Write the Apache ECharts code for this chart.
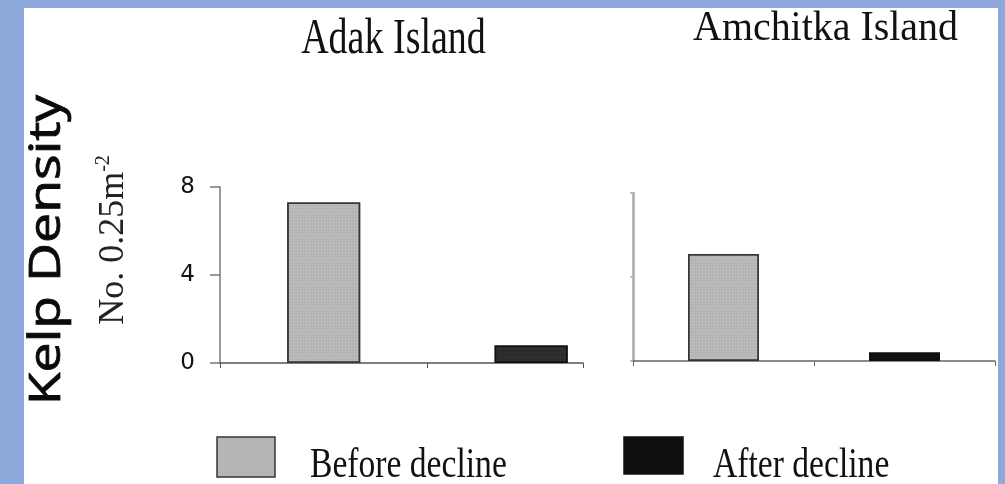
<!DOCTYPE html>
<html><head><meta charset="utf-8">
<script src="https://cdn.jsdelivr.net/npm/echarts@6/dist/echarts.min.js"></script>
<style>
html,body{margin:0;padding:0;background:#8eaadc;width:1005px;height:484px;overflow:hidden}
#bg{position:absolute;left:24px;top:8px;width:974px;height:476px;background:#fff}
#chart{position:absolute;left:0;top:0;width:1005px;height:484px}
</style></head><body><div id="bg"></div><div id="chart"></div>
<script>
const islands = ['Adak Island', 'Amchitka Island'];
const periods = ['Before decline', 'After decline'];
const adakDensity = [7.3, 0.8];
const amchitkaDensity = [5.1, 0.4];
const yTickValues = [0, 4, 8];
const yAxisTitle = 'Kelp Density';
const yAxisUnit = 'No. 0.25m';
const yAxisUnitExp = '-2';

const fillLeft = ['#b5b5b5', '#2c2c2c'];
const fillRight = ['#b5b5b5', '#0f0f0f'];
const borders = ['#353535', '#111111'];
const decals = [
  {symbol: 'rect', symbolSize: 1, dashArrayX: [1, 2], dashArrayY: [1, 2], color: 'rgba(255,255,255,0.28)'},
  {symbol: 'rect', symbolSize: 1, dashArrayX: [1, 3], dashArrayY: [1, 3], color: 'rgba(255,255,255,0.08)'}
];

function makeSeries(gridIdx, values, barW, fills) {
  return periods.map((p, i) => ({
    name: p, type: 'bar', xAxisIndex: gridIdx, yAxisIndex: gridIdx,
    barWidth: barW, barGap: '-100%', silent: true,
    data: [[i + 0.5, values[i]]],
    itemStyle: {color: fills[i], borderColor: borders[i], borderWidth: 1.5, decal: decals[i]}
  }));
}

const chart = echarts.init(document.getElementById('chart'), null, {renderer: 'canvas'});
const serif = '"Liberation Serif", "Times New Roman", serif';
const ySpec = (gridIndex, showLabels, lineColor, tickLen, lineW) => ({
  gridIndex: gridIndex,
  type: 'value', min: yTickValues[0], max: yTickValues[yTickValues.length - 1], interval: yTickValues[1] - yTickValues[0],
  axisLine: {show: true, lineStyle: {color: lineColor, width: lineW}},
  axisTick: {show: true, length: tickLen, lineStyle: {color: lineColor, width: 1.5}},
  axisLabel: {show: showLabels, margin: 25, fontFamily: '"DejaVu Sans", sans-serif', fontSize: 23, color: '#111'},
  splitLine: {show: false}
});
const xSpec = (gridIndex, max, lineColor) => ({
  gridIndex: gridIndex,
  type: 'value', min: 0, max: max, interval: 1,
  axisLine: {show: true, onZero: false, lineStyle: {color: lineColor, width: 1.5}},
  axisTick: {show: true, length: 5, lineStyle: {color: lineColor}},
  axisLabel: {show: false}, splitLine: {show: false}
});

const legendItems = [];
const legendBoxes = [[217, 437, 58, 40], [624, 437, 59, 37]];
const legendTextX = [310, 713];
periods.forEach((p, i) => {
  legendItems.push({type: 'rect', shape: {x: legendBoxes[i][0], y: legendBoxes[i][1], width: legendBoxes[i][2], height: legendBoxes[i][3]},
    style: {fill: fillRight[i], stroke: borders[i], lineWidth: 1.5}});
  legendItems.push({type: 'text', x: legendTextX[i], y: 466, scaleX: 0.8,
    style: {text: p, font: '42px ' + serif, fill: '#111', align: 'left', textAlign: 'left', verticalAlign: 'middle', textVerticalAlign: 'middle'}});
});

chart.setOption({
  animation: false,
  backgroundColor: 'transparent',
  grid: [
    {left: 220, top: 187, width: 363, height: 176},
    {left: 633, top: 193, width: 362, height: 168}
  ],
  xAxis: [xSpec(0, 1.75, '#555'), xSpec(1, 2, '#666')],
  yAxis: [ySpec(0, true, '#777', 10, 1.5), ySpec(1, false, '#aaa', 3, 2.5)],
  series: [...makeSeries(0, adakDensity, 73, fillLeft), ...makeSeries(1, amchitkaDensity, 71, fillRight)],
  graphic: [
    {type: 'text', x: 393.5, y: 40, scaleX: 0.76,
     style: {text: islands[0], font: '50px ' + serif, fill: '#111', align: 'center', textAlign: 'center', verticalAlign: 'middle', textVerticalAlign: 'middle'}},
    {type: 'text', x: 825.5, y: 29, scaleX: 0.95,
     style: {text: islands[1], font: '42px ' + serif, fill: '#111', align: 'center', textAlign: 'center', verticalAlign: 'middle', textVerticalAlign: 'middle'}},
    {type: 'text', x: 47.5, y: 250, rotation: Math.PI / 2, scaleX: 1.22,
     style: {text: yAxisTitle, font: '44px "Open Sans", sans-serif', fill: '#0a0a0a', stroke: '#0a0a0a', lineWidth: 0.8, align: 'center', textAlign: 'center', verticalAlign: 'middle', textVerticalAlign: 'middle'}},
    {type: 'text', x: 114, y: 240, rotation: Math.PI / 2,
     style: {text: '{a|' + yAxisUnit + '}{b|' + yAxisUnitExp + '}', align: 'center', textAlign: 'center', verticalAlign: 'middle', textVerticalAlign: 'middle',
       rich: {
         a: {fontSize: 36, fontFamily: serif, fill: '#222', color: '#222', lineHeight: 40},
         b: {fontSize: 20, fontFamily: serif, fill: '#222', color: '#222', lineHeight: 20, verticalAlign: 'top'}
       }}},
    ...legendItems
  ]
});
</script></body></html>
